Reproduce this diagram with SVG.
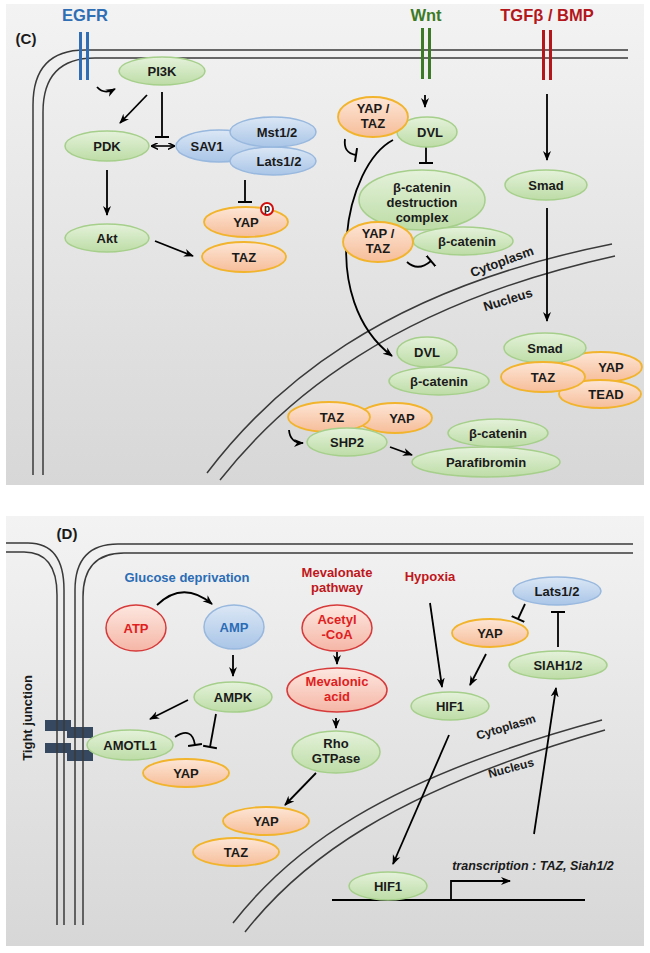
<svg xmlns="http://www.w3.org/2000/svg" width="650" height="953" viewBox="0 0 650 953">
<defs>
<linearGradient id="bg" x1="0" y1="0" x2="0" y2="1"><stop offset="0" stop-color="#f3f3f3"/><stop offset="1" stop-color="#d7d7d7"/></linearGradient>
<linearGradient id="gG" x1="0" y1="0" x2="0" y2="1"><stop offset="0" stop-color="#e4f2da"/><stop offset="1" stop-color="#bddca6"/></linearGradient>
<linearGradient id="gO" x1="0" y1="0" x2="0" y2="1"><stop offset="0" stop-color="#fde6d6"/><stop offset="1" stop-color="#f6bd99"/></linearGradient>
<linearGradient id="gB" x1="0" y1="0" x2="0" y2="1"><stop offset="0" stop-color="#dbe7f5"/><stop offset="1" stop-color="#a9c5e7"/></linearGradient>
<linearGradient id="gR" x1="0" y1="0" x2="0" y2="1"><stop offset="0" stop-color="#fde7e0"/><stop offset="1" stop-color="#f5b6a6"/></linearGradient>
<marker id="ar" viewBox="0 0 10 10" refX="9" refY="5" markerWidth="10" markerHeight="10" markerUnits="userSpaceOnUse" orient="auto-start-reverse"><path d="M0,1 L10,5 L0,9 L3,5 z" fill="#000"/></marker>
<marker id="ars" viewBox="0 0 10 10" refX="9" refY="5" markerWidth="7" markerHeight="7" markerUnits="userSpaceOnUse" orient="auto-start-reverse"><path d="M0,0 L10,5 L0,10" fill="none" stroke="#000" stroke-width="2"/></marker>
<marker id="tee" viewBox="0 0 4 14" refX="2" refY="7" markerWidth="4" markerHeight="14" markerUnits="userSpaceOnUse" orient="auto"><path d="M2,0 V14" stroke="#000" stroke-width="2"/></marker>
<style>
.g{fill:url(#gG);stroke:#a6cf8b;stroke-width:1.5}
.o{fill:url(#gO);stroke:#f1b42c;stroke-width:1.8}
.b{fill:url(#gB);stroke:#98b8de;stroke-width:1.5}
.r{fill:url(#gR);stroke:#d63a3a;stroke-width:1.5}
text{font-family:"Liberation Sans",Arial,sans-serif;font-weight:bold;font-size:13px;fill:#1a1a1a;text-anchor:middle}
.mem{fill:none;stroke:#3a3a3a;stroke-width:1.5}
.c{fill:none;stroke:#000;stroke-width:1.8}
.a{marker-end:url(#ar)}
.t{marker-end:url(#tee)}
.lbl{font-size:15px}
.rec{font-size:16.5px}
.rt{fill:#e02020}
.bt{fill:#2a6cb5}
</style>
</defs>

<!-- panel C -->
<rect x="6" y="4" width="638" height="481" fill="url(#bg)"/>
<text x="26" y="44" class="lbl">(C)</text>
<g id="membraneC">
<path class="mem" d="M628,50 H85 Q33,50 33,105 V475"/>
<path class="mem" d="M628,58 H95 Q43,58 43,112 V475"/>
<path class="mem" d="M207,473 C270,390 380,290 612,244"/>
<path class="mem" d="M220,480 C283,400 393,305 615,256"/>
<text x="502" y="266" transform="rotate(-20 502 262)">Cytoplasm</text>
<text x="508" y="304" transform="rotate(-17 508 300)">Nucleus</text>
</g>
<g id="EGFR">
<rect x="79" y="32" width="3" height="48" fill="#2f6eb5"/><rect x="86" y="32" width="3" height="48" fill="#2f6eb5"/>
<text x="85" y="21" class="rec" style="fill:#2f6eb5">EGFR</text>
</g>
<g id="Wnt">
<rect x="421" y="28" width="3" height="51" fill="#3d7a28"/><rect x="428" y="28" width="3" height="51" fill="#3d7a28"/>
<text x="426" y="21" class="rec" style="fill:#3d7a28">Wnt</text>
</g>
<g id="TGFb">
<rect x="542" y="30" width="3" height="50" fill="#b3161b"/><rect x="549" y="30" width="3" height="50" fill="#b3161b"/>
<text x="547" y="21" class="rec" style="fill:#b3161b">TGFβ / BMP</text>
</g>

<g id="connectorsC">
<path class="c a" d="M97,87 Q104,95 115,89"/>
<path class="c a" d="M147,95 L120,123"/>
<path class="c t" d="M162,92 V137"/>
<path d="M152,146 H174" fill="none" stroke="#000" stroke-width="1.6" marker-start="url(#ars)" marker-end="url(#ars)"/>
<path class="c a" d="M107,170 V215"/>
<path class="c a" d="M155,241 L193,256"/>
<path class="c t" d="M245,180 V202"/>
<path class="c a" d="M425,95 V107"/>
<path class="c t" d="M426,147 V163"/>
<path class="c t" d="M345,139 Q343,153 356,155"/>
<path class="c a" d="M393,140 C345,165 318,300 392,356"/>
<path class="c t" d="M407,262 Q418,272 431,261"/>
<path class="c a" d="M547,94 V160"/>
<path class="c a" d="M547,208 V321"/>
<path class="c a" d="M289,430 Q290,443 303,443"/>
<path class="c a" d="M390,447 L412,455"/>
</g>

<g id="PI3K"><ellipse class="g" cx="162" cy="71" rx="43" ry="14"/><text x="162" y="76">PI3K</text></g>
<g id="PDK"><ellipse class="g" cx="107" cy="146" rx="42" ry="15"/><text x="107" y="151">PDK</text></g>
<g id="Akt"><ellipse class="g" cx="107" cy="238" rx="42" ry="14"/><text x="107" y="243">Akt</text></g>
<g id="SAV1"><ellipse class="b" cx="219" cy="146" rx="43" ry="16"/><text x="207" y="151">SAV1</text></g>
<g id="Lats12C"><ellipse class="b" cx="273" cy="161" rx="43" ry="14"/><text x="279" y="166">Lats1/2</text></g>
<g id="Mst12"><ellipse class="b" cx="273" cy="132" rx="43" ry="15"/><text x="277" y="137">Mst1/2</text></g>
<g id="YAPp"><ellipse class="o" cx="246" cy="222" rx="42" ry="15"/><text x="246" y="227">YAP</text>
<circle cx="267" cy="209" r="6" fill="#fff" stroke="#d01010" stroke-width="2"/><text x="267" y="212" style="font-size:10px">p</text></g>
<g id="TAZ1"><ellipse class="o" cx="244" cy="257" rx="42" ry="15"/><text x="244" y="262">TAZ</text></g>

<g id="DVL1"><ellipse class="g" cx="427" cy="132" rx="30" ry="15"/><text x="430" y="137">DVL</text></g>
<g id="YAPTAZ1"><ellipse class="o" cx="373" cy="117" rx="35" ry="20"/><text x="373" y="113">YAP /</text><text x="373" y="128">TAZ</text></g>
<g id="destruction"><ellipse class="g" cx="422" cy="200" rx="63" ry="30"/><text x="422" y="192">β-catenin</text><text x="422" y="207">destruction</text><text x="422" y="222">complex</text></g>
<g id="bcat1"><ellipse class="g" cx="463" cy="241" rx="50" ry="14"/><text x="467" y="246">β-catenin</text></g>
<g id="YAPTAZ2"><ellipse class="o" cx="378" cy="242" rx="35" ry="20"/><text x="378" y="238">YAP /</text><text x="378" y="253">TAZ</text></g>
<g id="Smad1"><ellipse class="g" cx="546" cy="185" rx="41" ry="15"/><text x="546" y="190">Smad</text></g>

<g id="DVL2"><ellipse class="g" cx="427" cy="352" rx="30" ry="15"/><text x="427" y="357">DVL</text></g>
<g id="bcat2"><ellipse class="g" cx="439" cy="381" rx="50" ry="14"/><text x="439" y="386">β-catenin</text></g>
<g id="YAP2"><ellipse class="o" cx="601" cy="367" rx="41" ry="15"/><text x="611" y="372">YAP</text></g>
<g id="TEAD"><ellipse class="o" cx="600" cy="394" rx="41" ry="14"/><text x="606" y="399">TEAD</text></g>
<g id="Smad2"><ellipse class="g" cx="545" cy="348" rx="41" ry="15"/><text x="545" y="353">Smad</text></g>
<g id="TAZ2"><ellipse class="o" cx="543" cy="377" rx="42" ry="15"/><text x="543" y="382">TAZ</text></g>
<g id="YAP3"><ellipse class="o" cx="395" cy="418" rx="37" ry="15"/><text x="402" y="423">YAP</text></g>
<g id="TAZ3"><ellipse class="o" cx="329" cy="417" rx="41" ry="15"/><text x="332" y="422">TAZ</text></g>
<g id="SHP2"><ellipse class="g" cx="347" cy="442" rx="40" ry="14"/><text x="347" y="447">SHP2</text></g>
<g id="bcat3"><ellipse class="g" cx="498" cy="433" rx="50" ry="14"/><text x="498" y="438">β-catenin</text></g>
<g id="Parafibromin"><ellipse class="g" cx="486" cy="462" rx="74" ry="15"/><text x="486" y="467">Parafibromin</text></g>

<!-- panel D -->
<rect x="6" y="516" width="638" height="430" fill="url(#bg)"/>
<text x="67" y="539" class="lbl">(D)</text>
<g id="junction">
<rect x="45" y="720" width="26" height="11" fill="#364760"/>
<rect x="67" y="727" width="26" height="11" fill="#364760"/>
<rect x="45" y="743" width="26" height="10" fill="#364760"/>
<rect x="67" y="750" width="26" height="11" fill="#364760"/>
<text x="28" y="722" transform="rotate(-90 28 718)">Tight junction</text>
</g>
<g id="membraneD">
<path class="mem" d="M6,543 H28 Q64,543 64,590 V925"/>
<path class="mem" d="M6,552 H24 Q57,552 57,595 V925"/>
<path class="mem" d="M633,544 H118 Q75,544 75,590 V925"/>
<path class="mem" d="M633,553 H124 Q83,553 83,597 V925"/>
<path class="mem" d="M233,923 C290,850 380,780 602,720"/>
<path class="mem" d="M245,932 C300,862 390,792 605,730"/>
<text x="506" y="731" transform="rotate(-17 506 727)" style="font-size:12px">Cytoplasm</text>
<text x="511" y="772" transform="rotate(-15 511 768)" style="font-size:12px">Nucleus</text>
<path d="M332,900 H585" stroke="#000" stroke-width="2" fill="none"/>
</g>
<text x="187" y="582" class="bt">Glucose deprivation</text>
<text x="337" y="577" style="fill:#c0161b">Mevalonate</text>
<text x="337" y="592" style="fill:#c0161b">pathway</text>
<text x="430" y="581" style="fill:#c0161b">Hypoxia</text>
<text x="533" y="870" style="font-style:italic;font-size:12.5px">transcription : TAZ, Siah1/2</text>

<g id="connectorsD">
<path class="c a" d="M157,605 Q183,580 212,604"/>
<path class="c a" d="M233,655 V676"/>
<path class="c a" d="M188,700 L150,719"/>
<path class="c t" d="M216,714 L210,747"/>
<path class="c t" d="M175,737 Q192,726 195,745"/>
<path class="c a" d="M337,652 V664"/>
<path class="c a" d="M336,718 V728"/>
<path class="c a" d="M316,773 L285,805"/>
<path class="c a" d="M430,603 L442,687"/>
<path class="c t" d="M525,604 L518,619"/>
<path class="c a" d="M486,654 L470,685"/>
<path class="c t" d="M558,647 V612"/>
<path class="c a" d="M534,834 L556,688"/>
<path class="c a" d="M449,735 L393,864"/>
<path class="c a" d="M451,900 V881 H510"/>
</g>

<g id="ATP"><ellipse class="r" cx="136" cy="628" rx="30" ry="23"/><text x="136" y="633" class="rt">ATP</text></g>
<g id="AMP"><ellipse class="b" cx="234" cy="627" rx="30" ry="22"/><text x="234" y="632" class="bt">AMP</text></g>
<g id="AMPK"><ellipse class="g" cx="233" cy="697" rx="39" ry="15"/><text x="233" y="702">AMPK</text></g>
<g id="AMOTL1"><ellipse class="g" cx="130" cy="745" rx="43" ry="15"/><text x="130" y="750">AMOTL1</text></g>
<g id="YAPD1"><ellipse class="o" cx="186" cy="773" rx="43" ry="14"/><text x="186" y="778">YAP</text></g>
<g id="AcetylCoA"><ellipse class="r" cx="337" cy="628" rx="35" ry="23"/><text x="337" y="624" class="rt">Acetyl</text><text x="337" y="639" class="rt">-CoA</text></g>
<g id="Mevalonic"><ellipse class="r" cx="337" cy="690" rx="50" ry="22"/><text x="337" y="686" class="rt">Mevalonic</text><text x="337" y="701" class="rt">acid</text></g>
<g id="Rho"><ellipse class="g" cx="336" cy="752" rx="44" ry="21"/><text x="336" y="748">Rho</text><text x="336" y="763">GTPase</text></g>
<g id="YAPD2"><ellipse class="o" cx="266" cy="821" rx="43" ry="14"/><text x="266" y="826">YAP</text></g>
<g id="TAZD"><ellipse class="o" cx="236" cy="852" rx="43" ry="14"/><text x="236" y="857">TAZ</text></g>
<g id="LatsD"><ellipse class="b" cx="557" cy="591" rx="44" ry="14"/><text x="557" y="596">Lats1/2</text></g>
<g id="YAPD3"><ellipse class="o" cx="490" cy="633" rx="38" ry="14"/><text x="490" y="638">YAP</text></g>
<g id="SIAH"><ellipse class="g" cx="558" cy="665" rx="49" ry="14"/><text x="558" y="670">SIAH1/2</text></g>
<g id="HIF1a"><ellipse class="g" cx="450" cy="706" rx="39" ry="14"/><text x="450" y="711">HIF1</text></g>
<g id="HIF1b"><ellipse class="g" cx="388" cy="886" rx="39" ry="14"/><text x="388" y="891">HIF1</text></g>
</svg>
